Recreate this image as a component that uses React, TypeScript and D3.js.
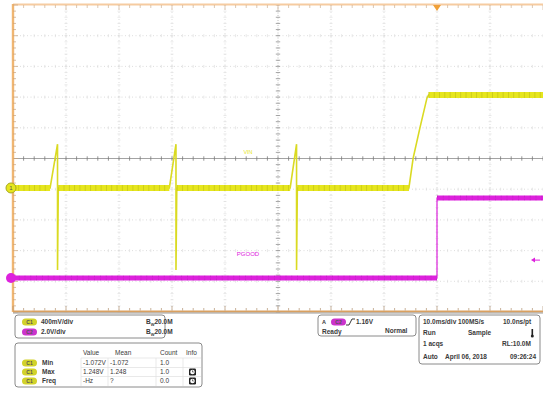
import React from "react";
import * as d3 from "d3";

const W = 543;
const H = 396;

// time axis (ms), 10 ms/div, 10 divisions
const timeDomain: [number, number] = [-80, 20];
const timeDivs = [-80, -70, -60, -50, -40, -30, -20, -10, 0, 10, 20];
// ch1 400 mV/div, ch2 2 V/div (volts)
const ch1Domain: [number, number] = [-1.616, 2.384];
const ch2Domain: [number, number] = [-2.22, 17.78];
const vertDivs = [0, 1, 2, 3, 4, 5, 6, 7, 8, 9, 10];

// Channel 1 (yellow) trace
const ch1Time = [-80, -73.0, -71.6, -71.6, -71.45, -50.5, -49.25, -49.25, -49.1, -27.7, -26.5, -26.5, -26.35, -5.3, -4.5, -3.2, -1.9, -1.6, 20];
const ch1Volt = [0, 0, 0.57, -1.07, 0, 0, 0.57, -1.07, 0, 0, 0.57, -1.07, 0, 0, 0.39, 0.79, 1.17, 1.21, 1.21];
// Channel 2 (magenta) trace: PGOOD
const ch2Time = [-80, 0, 0, 20];
const ch2Volt = [0, 0, 5.2, 5.2];
const triggerLevel = 1.16;

const scaleRows = [
  { ch: "C1", color: "#d2d22a", scale: "400mV/div", bw: "20.0M" },
  { ch: "C2", color: "#cc33cc", scale: "2.0V/div", bw: "20.0M" },
];
const measHeaders = ["Value", "Mean", "Count", "Info"];
const measNames = ["Min", "Max", "Freq"];
const measValues = ["-1.072V", "1.248V", "-Hz"];
const measMeans = ["-1.072", "1.248", "?"];
const measCounts = ["1.0", "1.0", "0.0"];
const measInfo = [false, true, true];

const YELLOW = "#e6e61e";
const MAGENTA = "#dd22dd";
const FONT = "'Liberation Sans', Arial, sans-serif";
const TXT = "#3a3a3a";

const X0 = 13, X1 = 543, Y0 = 5, Y1 = 312;

function Pill({ x, y, color, label }: { x: number; y: number; color: string; label: string }) {
  return (
    <g>
      <rect x={x} y={y - 3.6} width={15} height={7.2} rx={3.6} fill={color} />
      <text x={x + 7.5} y={y + 1.9} fontSize={5} textAnchor="middle" fill="#555" fontFamily={FONT} fontWeight="bold">{label}</text>
    </g>
  );
}

function Clock({ x, y }: { x: number; y: number }) {
  return (
    <g>
      <rect x={x} y={y - 3.5} width={7} height={7} rx={1.2} fill="#222" />
      <circle cx={x + 3.5} cy={y} r={2.3} fill="#fff" />
      <path d={`M${x + 3.5},${y - 1.6} L${x + 3.5},${y} L${x + 4.8},${y}`} stroke="#222" strokeWidth={0.6} fill="none" />
    </g>
  );
}

export default function App() {
  const x = d3.scaleLinear().domain(timeDomain).range([X0, X1]);
  const yDiv = d3.scaleLinear().domain([0, 10]).range([Y0, Y1]);
  const y1 = d3.scaleLinear().domain(ch1Domain).range([Y1, Y0]);
  const y2 = d3.scaleLinear().domain(ch2Domain).range([Y1, Y0]);

  const ch1: [number, number][] = ch1Time.map((t, i) => [t, ch1Volt[i]]);
  const ch2: [number, number][] = ch2Time.map((t, i) => [t, ch2Volt[i]]);
  const line1 = d3.line<[number, number]>().x((d) => x(d[0])).y((d) => y1(d[1]));
  const line2 = d3.line<[number, number]>().x((d) => x(d[0])).y((d) => y2(d[1]));

  const flatSegs = (pts: [number, number][]) => {
    const segs: [number, number][][] = [];
    for (let i = 0; i < pts.length - 1; i++) {
      if (pts[i][1] === pts[i + 1][1] && pts[i][0] !== pts[i + 1][0]) segs.push([pts[i], pts[i + 1]]);
    }
    return segs;
  };

  const divW = (X1 - X0) / 10;
  const divH = (Y1 - Y0) / 10;
  const xc = x(-30);
  const yc = yDiv(5);

  const minorX = d3.range(0, 51).map((i) => X0 + (i * divW) / 5);
  const minorY = d3.range(0, 51).map((i) => Y0 + (i * divH) / 5);

  const tTrig = x(0);
  const yTrig = y2(triggerLevel);

  return (
    <svg width={W} height={H} style={{ position: "absolute", left: 0, top: 0, background: "#fff" }}>
      <rect x={0} y={0} width={W} height={H} fill="#fff" />
      {/* grid */}
      {timeDivs.slice(1, -1).map((t) =>
        t === -30 ? null : (
          <line key={"gv" + t} x1={x(t)} x2={x(t)} y1={Y0} y2={Y1} stroke="#d4d4d4" strokeWidth={0.8} strokeDasharray="1 2.5" />
        )
      )}
      {vertDivs.slice(1, -1).map((k) =>
        k === 5 ? null : (
          <line key={"gh" + k} x1={X0} x2={X1} y1={yDiv(k)} y2={yDiv(k)} stroke="#d4d4d4" strokeWidth={0.8} strokeDasharray="1 2.5" />
        )
      )}
      {vertDivs.slice(1, -1).filter((k) => k !== 5).map((k) =>
        minorX.map((mx, i) => (
          <line key={`mh${k}-${i}`} x1={mx} x2={mx} y1={yDiv(k) - 1.5} y2={yDiv(k) + 1.5} stroke="#dedede" strokeWidth={0.7} />
        ))
      )}
      {timeDivs.slice(1, -1).filter((t) => t !== -30).map((t) =>
        minorY.map((my, i) => (
          <line key={`mv${t}-${i}`} x1={x(t) - 1.5} x2={x(t) + 1.5} y1={my} y2={my} stroke="#dedede" strokeWidth={0.7} />
        ))
      )}
      {/* center axes */}
      <line x1={X0} x2={X1} y1={yc} y2={yc} stroke="#8c8c8c" strokeWidth={0.8} />
      {minorX.map((mx, i) => (
        <line key={"cx" + i} x1={mx} x2={mx} y1={yc - 2.2} y2={yc + 2.2} stroke="#7a7a7a" strokeWidth={0.8} />
      ))}
      <line x1={xc} x2={xc} y1={Y0} y2={Y1} stroke="#b0b0b0" strokeWidth={0.8} strokeDasharray="1 1.5" />
      {minorY.map((my, i) => (
        <line key={"cy" + i} x1={xc - 2.2} x2={xc + 2.2} y1={my} y2={my} stroke="#909090" strokeWidth={0.8} />
      ))}

      {/* rulers */}
      <line x1={X0} x2={X1} y1={Y0 - 0.5} y2={Y0 - 0.5} stroke="#f6cba0" strokeWidth={2} />
      {minorX.map((mx, i) => (
        <line key={"rt" + i} x1={mx} x2={mx} y1={Y0} y2={Y0 + (i % 5 === 0 ? 5 : 3)} stroke="#d0b090" strokeWidth={0.7} />
      ))}
      <line x1={X0} x2={X0} y1={Y0 - 1} y2={Y1} stroke="#f0b672" strokeWidth={2.4} />
      {minorY.map((my, i) => (
        <line key={"rl" + i} x1={X0} x2={X0 + (i % 5 === 0 ? 5 : 3)} y1={my} y2={my} stroke="#c9a27a" strokeWidth={0.7} />
      ))}
      <line x1={X0} x2={X1} y1={Y1 - 0.5} y2={Y1 - 0.5} stroke="#d9a060" strokeWidth={2} />
      <line x1={X0} x2={X1} y1={Y1 + 1} y2={Y1 + 1} stroke="#9a9a9a" strokeWidth={1} />
      {minorX.map((mx, i) => (
        <line key={"rb" + i} x1={mx} x2={mx} y1={Y1 - 1.5} y2={Y1 - (i % 5 === 0 ? 6 : 4)} stroke="#b09070" strokeWidth={0.7} />
      ))}
      <path d={`M${tTrig - 4},${Y0} L${tTrig + 4},${Y0} L${tTrig},${Y0 + 6} Z`} fill="#f0a038" />

      {/* channel 2 trace */}
      {flatSegs(ch2).map((s, i) => (
        <g key={"b2" + i}>
          <path d={line2(s) || ""} stroke={MAGENTA} strokeWidth={5} fill="none" />
          <path d={line2(s) || ""} stroke="#8a1a8a" strokeOpacity={0.3} strokeWidth={5} strokeDasharray="0.8 5" fill="none" />
        </g>
      ))}
      <path d={line2(ch2) || ""} stroke={MAGENTA} strokeWidth={1.2} fill="none" />

      {/* channel 1 trace */}
      <path d={line1(ch1) || ""} stroke="#dada22" strokeWidth={1.6} fill="none" />
      {flatSegs(ch1).map((s, i) => (
        <g key={"b1" + i}>
          <path d={line1(s) || ""} stroke={YELLOW} strokeWidth={6} fill="none" />
          <path d={line1(s) || ""} stroke="#7c7c10" strokeOpacity={0.28} strokeWidth={6} strokeDasharray="0.8 4.5" fill="none" />
        </g>
      ))}

      <text x={248} y={154} fontSize={5.5} fill={YELLOW} fontFamily={FONT} textAnchor="middle">VIN</text>
      <text x={248} y={256} fontSize={6} fill={MAGENTA} fontFamily={FONT} textAnchor="middle">PGOOD</text>

      <circle cx={11} cy={y1(0)} r={5} fill={YELLOW} stroke="#a8a820" strokeWidth={1} />
      <text x={11} y={y1(0) + 2.2} fontSize={6} textAnchor="middle" fill="#555" fontFamily={FONT}>1</text>
      <circle cx={11} cy={y2(0)} r={5} fill={MAGENTA} />
      <path d={`M${W - 12},${yTrig} L${W - 8},${yTrig - 2.5} L${W - 8},${yTrig + 2.5} Z`} fill={MAGENTA} />
      <line x1={W - 8} x2={W - 3} y1={yTrig} y2={yTrig} stroke={MAGENTA} strokeWidth={1} />

      <g fontFamily={FONT} fontSize={6.5} fill={TXT} fontWeight="bold">
        <rect x={15} y={315} width={150} height={23} rx={3} fill="#fff" stroke="#8a8a8a" strokeWidth={1} />
        {scaleRows.map((r, i) => (
          <g key={r.ch}>
            <Pill x={22} y={322 + i * 10} color={r.color} label={r.ch} />
            <text x={41} y={324.3 + i * 10}>{r.scale}</text>
            <text x={146} y={324.3 + i * 10}>
              B<tspan fontSize={4} dy={1.5}>W</tspan>
              <tspan dy={-1.5}>{r.bw}</tspan>
            </text>
          </g>
        ))}

        <rect x={15} y={343} width={187} height={44} rx={3} fill="#fff" stroke="#8a8a8a" strokeWidth={1} />
        {[81, 108, 156, 183].map((vx) => (
          <line key={"tv" + vx} x1={vx} x2={vx} y1={358} y2={386} stroke="#e0e0e0" strokeWidth={0.7} />
        ))}
        {[358, 367.5, 376.5].map((hy) => (
          <line key={"th" + hy} x1={81} x2={201} y1={hy} y2={hy} stroke="#e0e0e0" strokeWidth={0.7} />
        ))}
        {measHeaders.map((h, i) => (
          <text key={h} x={[83, 115, 160, 186][i]} y={355} fontWeight="normal">{h}</text>
        ))}
        {measNames.map((n, i) => {
          const cy = 363 + i * 9;
          return (
            <g key={n}>
              <Pill x={22} y={cy} color="#d2d22a" label="C1" />
              <text x={42} y={cy + 2.2}>{n}</text>
              <text x={83} y={cy + 2.2} fontWeight="normal">{measValues[i]}</text>
              <text x={110} y={cy + 2.2} fontWeight="normal">{measMeans[i]}</text>
              <text x={160} y={cy + 2.2} fontWeight="normal">{measCounts[i]}</text>
              {measInfo[i] ? <Clock x={189} y={cy} /> : null}
            </g>
          );
        })}

        <rect x={318} y={315} width={98} height={21} rx={3} fill="#fff" stroke="#8a8a8a" strokeWidth={1} />
        <text x={322} y={324.3} fontSize={5.5}>A</text>
        <Pill x={331} y={322} color="#cc33cc" label="C2" />
        <path d="M346,325 L349,325 L352,319 L355,319" stroke="#222" strokeWidth={0.9} fill="none" />
        <text x={356} y={324.3}>1.16V</text>
        <text x={322} y={334}>Ready</text>
        <text x={385} y={333}>Normal</text>

        <rect x={419} y={315} width={121} height={49} rx={3} fill="#fff" stroke="#8a8a8a" strokeWidth={1} />
        <text x={423} y={324.3}>10.0ms/div 100MS/s</text>
        <text x={503} y={324.3}>10.0ns/pt</text>
        <text x={423} y={335}>Run</text>
        <text x={468} y={335}>Sample</text>
        <rect x={531.5} y={329} width={1.6} height={6} fill="#222" />
        <circle cx={532.3} cy={336} r={1.5} fill="#222" />
        <text x={423} y={346}>1 acqs</text>
        <text x={502} y={346}>RL:10.0M</text>
        <text x={423} y={358.5}>Auto</text>
        <text x={445} y={358.5}>April 06, 2018</text>
        <text x={510} y={358.5}>09:26:24</text>
      </g>
    </svg>
  );
}
